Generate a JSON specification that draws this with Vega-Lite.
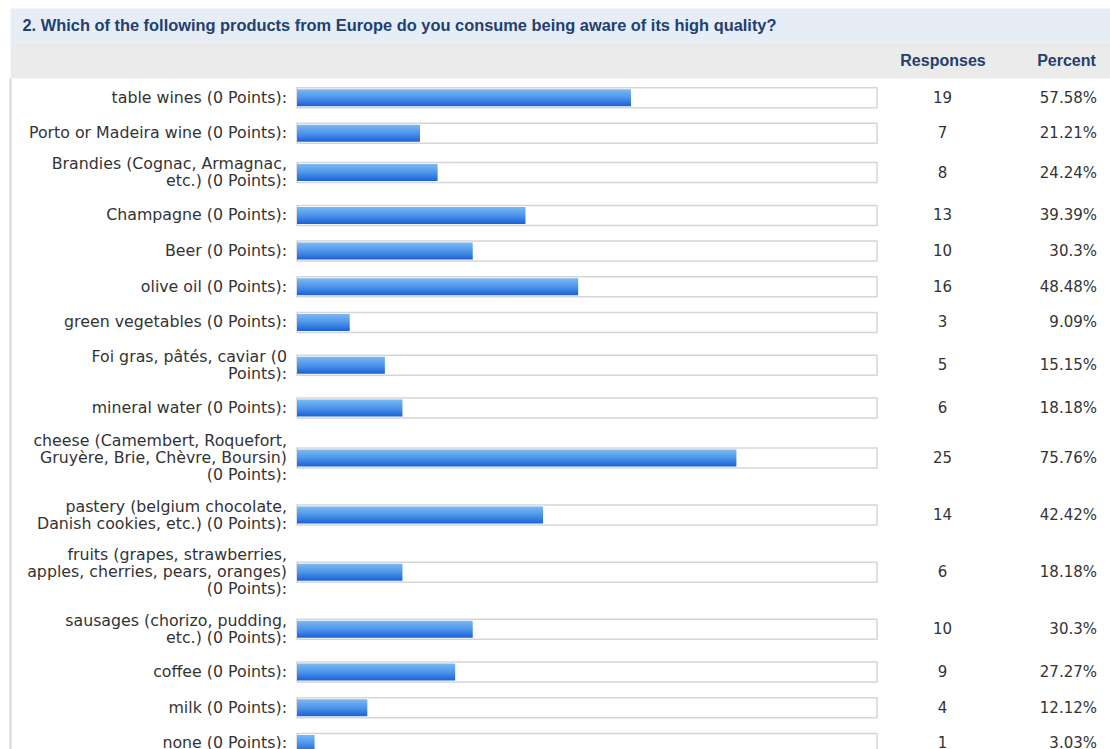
{
  "$schema": "https://vega.github.io/schema/vega-lite/v6.json",
  "autosize": "none",
  "padding": {"left": 10, "top": 78, "right": 0, "bottom": 0},
  "width": 1100,
  "height": 671,
  "background": "white",
  "config": {"view": {"stroke": null}},
  "data": {
    "values": [
      {"item": "table wines (0 Points):", "responses": 19, "pct": 0.5758},
      {"item": "Porto or Madeira wine (0 Points):", "responses": 7, "pct": 0.2121},
      {"item": "Brandies (Cognac, Armagnac,\netc.) (0 Points):", "responses": 8, "pct": 0.2424},
      {"item": "Champagne (0 Points):", "responses": 13, "pct": 0.3939},
      {"item": "Beer (0 Points):", "responses": 10, "pct": 0.303},
      {"item": "olive oil (0 Points):", "responses": 16, "pct": 0.4848},
      {"item": "green vegetables (0 Points):", "responses": 3, "pct": 0.0909},
      {"item": "Foi gras, pâtés, caviar (0\nPoints):", "responses": 5, "pct": 0.1515},
      {"item": "mineral water (0 Points):", "responses": 6, "pct": 0.1818},
      {"item": "cheese (Camembert, Roquefort,\nGruyère, Brie, Chèvre, Boursin)\n(0 Points):", "responses": 25, "pct": 0.7576},
      {"item": "pastery (belgium chocolate,\nDanish cookies, etc.) (0 Points):", "responses": 14, "pct": 0.4242},
      {"item": "fruits (grapes, strawberries,\napples, cherries, pears, oranges)\n(0 Points):", "responses": 6, "pct": 0.1818},
      {"item": "sausages (chorizo, pudding,\netc.) (0 Points):", "responses": 10, "pct": 0.303},
      {"item": "coffee (0 Points):", "responses": 9, "pct": 0.2727},
      {"item": "milk (0 Points):", "responses": 4, "pct": 0.1212},
      {"item": "none (0 Points):", "responses": 1, "pct": 0.0303}
    ]
  },
  "encoding": {
    "y": {
      "field": "item",
      "type": "nominal",
      "sort": null,
      "scale": {
        "domain": [
          "s1","s2","s3","s4","s5",
          "table wines (0 Points):",
          "s6","s7","s8","s9","s10","s11","s12","s13","s14",
          "Porto or Madeira wine (0 Points):",
          "s15","s16","s17","s18","s19","s20","s21","s22","s23","s24",
          "Brandies (Cognac, Armagnac,\netc.) (0 Points):",
          "s25","s26","s27","s28","s29","s30","s31","s32","s33","s34","s35",
          "Champagne (0 Points):",
          "s36","s37","s38","s39","s40","s41","s42","s43","s44",
          "Beer (0 Points):",
          "s45","s46","s47","s48","s49","s50","s51","s52","s53",
          "olive oil (0 Points):",
          "s54","s55","s56","s57","s58","s59","s60","s61","s62",
          "green vegetables (0 Points):",
          "s63","s64","s65","s66","s67","s68","s69","s70","s71","s72","s73",
          "Foi gras, pâtés, caviar (0\nPoints):",
          "s74","s75","s76","s77","s78","s79","s80","s81","s82","s83","s84",
          "mineral water (0 Points):",
          "s85","s86","s87","s88","s89","s90","s91","s92","s93","s94","s95","s96","s97",
          "cheese (Camembert, Roquefort,\nGruyère, Brie, Chèvre, Boursin)\n(0 Points):",
          "s98","s99","s100","s101","s102","s103","s104","s105","s106","s107","s108","s109","s110","s111","s112",
          "pastery (belgium chocolate,\nDanish cookies, etc.) (0 Points):",
          "s113","s114","s115","s116","s117","s118","s119","s120","s121","s122","s123","s124","s125","s126","s127",
          "fruits (grapes, strawberries,\napples, cherries, pears, oranges)\n(0 Points):",
          "s128","s129","s130","s131","s132","s133","s134","s135","s136","s137","s138","s139","s140","s141","s142",
          "sausages (chorizo, pudding,\netc.) (0 Points):",
          "s143","s144","s145","s146","s147","s148","s149","s150","s151","s152","s153",
          "coffee (0 Points):",
          "s154","s155","s156","s157","s158","s159","s160","s161","s162",
          "milk (0 Points):",
          "s163","s164","s165","s166","s167","s168","s169","s170","s171",
          "none (0 Points):",
          "s172","s173"
        ],
        "range": [0, 674.4],
        "paddingInner": 0,
        "paddingOuter": 0
      },
      "axis": {
        "orient": "left",
        "labels": false,
        "ticks": false,
        "grid": false,
        "title": null,
        "domain": true,
        "domainColor": "#d6d6d6",
        "domainWidth": 2
      }
    }
  },
  "layer": [
    {
      "mark": {"type": "bar", "size": 20, "fill": "white", "stroke": "#d6d6d6", "strokeWidth": 1.5},
      "encoding": {
        "x": {
          "datum": 1,
          "type": "quantitative",
          "scale": {"domain": [-0.49483, 1.40172], "nice": false, "zero": false},
          "axis": {
            "orient": "top",
            "labels": false,
            "ticks": false,
            "grid": false,
            "domainColor": "#ebebeb",
            "domainWidth": 36,
            "offset": 18,
            "title": null,
            "zindex": 1
          }
        }
      }
    },
    {
      "mark": {
        "type": "bar",
        "size": 17,
        "fill": {
          "gradient": "linear",
          "x1": 0, "y1": 0, "x2": 0, "y2": 1,
          "stops": [
            {"offset": 0, "color": "#7cb9f4"},
            {"offset": 0.5, "color": "#4c95ea"},
            {"offset": 1, "color": "#1c60d6"}
          ]
        }
      },
      "encoding": {
        "x": {
          "field": "pct",
          "type": "quantitative",
          "axis": {
            "orient": "top",
            "offset": 53,
            "domainColor": "#e6edf6",
            "domainWidth": 34,
            "labels": false,
            "ticks": false,
            "grid": false,
            "zindex": 1,
            "title": "2. Which of the following products from Europe do you consume being aware of its high quality?",
            "titleFont": "Liberation Sans",
            "titleFontSize": 16.4,
            "titleFontWeight": "bold",
            "titleColor": "#23406e",
            "titleAnchor": "start",
            "titleAlign": "left",
            "titleBaseline": "middle",
            "titleX": 12,
            "titleY": 0
          }
        }
      }
    },
    {
      "mark": {
        "type": "text",
        "align": "right",
        "baseline": "middle",
        "lineBreak": "\n",
        "lineHeight": 17,
        "font": "DejaVu Sans",
        "fontSize": 15.8,
        "color": "#333333",
        "dy": {"expr": "-(length(split(datum.item, '\\n')) - 1) * 8.5"}
      },
      "encoding": {
        "x": {
          "datum": -0.01724,
          "type": "quantitative",
          "axis": {
            "orient": "top",
            "values": [1.11293, 1.32586],
            "labelExpr": "datum.value < 1.2 ? 'Responses' : 'Percent'",
            "domain": false,
            "ticks": false,
            "tickSize": 0,
            "grid": false,
            "offset": 18,
            "labelFont": "Liberation Sans",
            "labelFontWeight": "bold",
            "labelFontSize": 16,
            "labelColor": "#23406e",
            "labelBaseline": "middle",
            "labelAlign": "center",
            "labelPadding": 0,
            "labelFlush": false,
            "labelOverlap": false,
            "title": null,
            "zindex": 2
          }
        },
        "text": {"field": "item", "type": "nominal"}
      }
    },
    {
      "mark": {"type": "text", "align": "center", "baseline": "middle", "font": "DejaVu Sans", "fontSize": 15, "color": "#333333"},
      "encoding": {
        "x": {"datum": 1.11293, "type": "quantitative", "axis": null},
        "text": {"field": "responses", "type": "quantitative"}
      }
    },
    {
      "mark": {"type": "text", "align": "right", "baseline": "middle", "font": "DejaVu Sans", "fontSize": 15, "color": "#333333"},
      "encoding": {
        "x": {"datum": 1.37931, "type": "quantitative", "axis": null},
        "text": {"field": "pct", "type": "quantitative", "format": ".2~%"}
      }
    }
  ],
  "resolve": {"axis": {"x": "independent"}}
}
